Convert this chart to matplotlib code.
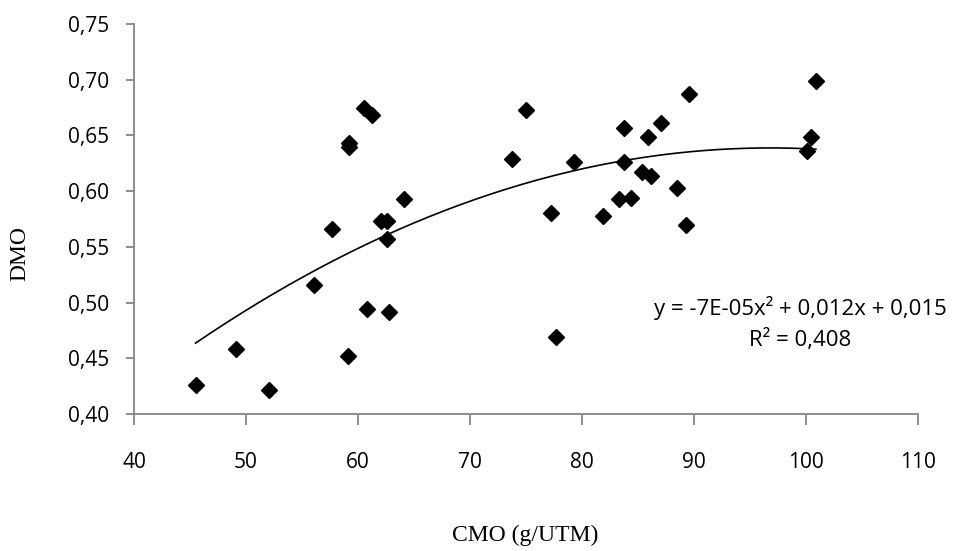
import numpy as np
import matplotlib.pyplot as plt

# données
cmo = [45.5, 49.1, 52.1, 56.1, 57.7, 59.1, 59.2, 59.2, 60.5, 60.8,
       61.3, 62.1, 62.6, 62.6, 62.8, 64.1, 73.8, 75.0, 77.2, 77.7,
       79.3, 81.9, 83.3, 83.8, 83.8, 84.4, 85.4, 85.9, 86.2, 87.1,
       88.5, 89.3, 89.6, 100.1, 100.5, 100.9]
dmo = [0.426, 0.458, 0.422, 0.516, 0.566, 0.452, 0.643, 0.640, 0.675, 0.494,
       0.668, 0.573, 0.573, 0.557, 0.492, 0.593, 0.629, 0.673, 0.580, 0.469,
       0.626, 0.578, 0.593, 0.657, 0.626, 0.594, 0.617, 0.649, 0.614, 0.661,
       0.603, 0.570, 0.687, 0.636, 0.649, 0.699]
x_ticks = [40, 50, 60, 70, 80, 90, 100, 110]
y_ticks = [0.40, 0.45, 0.50, 0.55, 0.60, 0.65, 0.70, 0.75]
equation = "y = -7E-05x² + 0,012x + 0,015"
r2_text = "R² = 0,408"

sans = ['Open Sans', 'DejaVu Sans']
serif = ['Liberation Serif', 'DejaVu Serif']
grey = '#868686'
W, H = 957, 551

fig = plt.figure(figsize=(9.57, 5.51), dpi=100)
ax = fig.add_axes([0.140, 0.2486, 0.819, 0.7078])

ax.plot(cmo, dmo, linestyle='none', marker='D', color='black', markersize=8)

# courbe de tendance polynomiale (ordre 2)
coef = np.polyfit(cmo, dmo, 2)
xs = np.linspace(min(cmo), max(cmo), 200)
ax.plot(xs, np.polyval(coef, xs), color='black', linewidth=1.2)

ax.set_xlim(40, 110)
ax.set_ylim(0.40, 0.75)
ax.set_xticks(x_ticks)
ax.set_xticklabels([str(t) for t in x_ticks], family=sans, fontsize=15)
ax.set_yticks(y_ticks)
ax.set_yticklabels([f"{t:.2f}".replace('.', ',') for t in y_ticks], family=sans, fontsize=15)

for s in ['top', 'right']:
    ax.spines[s].set_visible(False)
for s in ['left', 'bottom']:
    ax.spines[s].set_color(grey)
    ax.spines[s].set_linewidth(1.3)
ax.tick_params(axis='x', direction='out', length=8, width=1.3, color=grey, pad=19)
ax.tick_params(axis='y', direction='out', length=6, width=1.3, color=grey, pad=12)

fig.text(800 / W, 1 - 308 / H, equation, ha='center', va='center',
         family=sans, fontsize=16)
fig.text(800 / W, 1 - 340 / H, r2_text, ha='center', va='center',
         family=sans, fontsize=16)

fig.text(525 / W, 1 - 535 / H, "CMO (g/UTM)", ha='center', va='center',
         family=serif, fontsize=17)
fig.text(20 / W, 1 - 253 / H, "DMO", ha='center', va='center',
         rotation=90, family=serif, fontsize=17)

fig.savefig('out.png', dpi=100)
